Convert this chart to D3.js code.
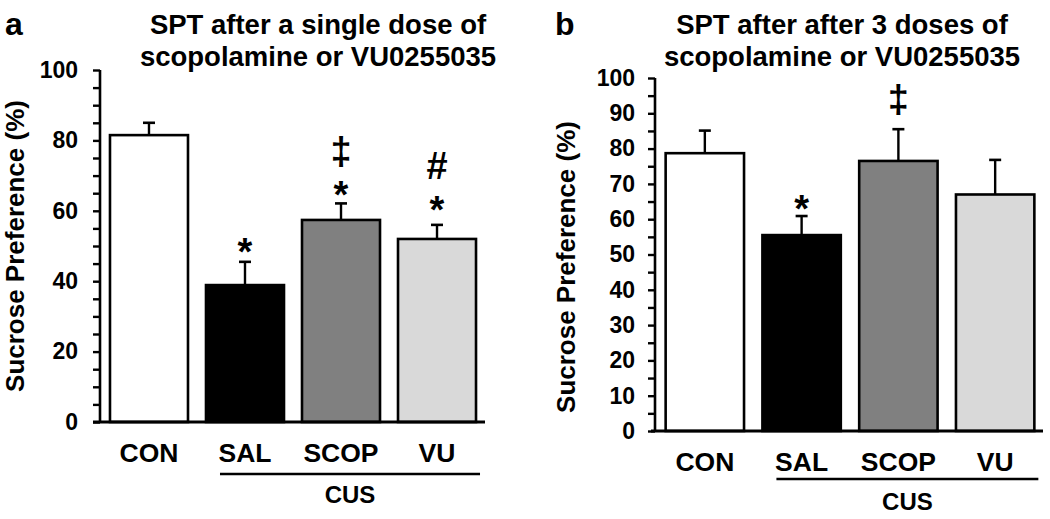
<!DOCTYPE html>
<html>
<head>
<meta charset="utf-8">
<script src="https://cdn.jsdelivr.net/npm/d3@7"></script>
<style>
  html, body { margin: 0; padding: 0; background: #fff; }
  svg { display: block; }
  text { font-family: "Liberation Sans", Arial, sans-serif; font-weight: bold; fill: #000; }
</style>
</head>
<body>
<svg id="chart" width="1050" height="519"></svg>
<script>
// ---------- data ----------
const categories = ["CON", "SAL", "SCOP", "VU"];
const fills = ["#ffffff", "#000000", "#808080", "#d9d9d9"];

const titleA = ["SPT after a single dose of", "scopolamine or VU0255035"];
const meansA = [81.5, 38.9, 57.4, 52.0];
const semA   = [3.5, 6.6, 4.7, 4.0];
const marksA = [[], ["*"], ["*", "\u2021"], ["*", "#"]];
const tickLabelsA = [0, 20, 40, 60, 80, 100];

const titleB = ["SPT after after 3 doses of", "scopolamine or VU0255035"];
const meansB = [78.7, 55.5, 76.5, 67.0];
const semB   = [6.4, 5.4, 9.0, 9.8];
const marksB = [[], ["*"], ["\u2021"], []];
const tickLabelsB = [0, 10, 20, 30, 40, 50, 60, 70, 80, 90, 100];

const minorTicks = d3.range(0, 101, 5);
const yLabel = "Sucrose Preference (%)";
const groupLabel = "CUS";

// ---------- layout ----------
const panels = [
  { letter: "a", title: titleA, means: meansA, sem: semA, marks: marksA, labels: tickLabelsA,
    axisX: 100, y0: 422, y100: 70, xRange: [100, 486], pi: 0.1875, po: 0.104,
    baseStart: 93, baseEnd: 485, titleX: 318, letterX: 5, yTitleX: 24, yTitleY: 246,
    tickPad: 15, xLabY: 462, cusLineY: 474, cusTextY: 503,
    markStart: [11, 11, 10, 17], markGap: [12, 12, 12, 16] },
  { letter: "b", title: titleB, means: meansB, sem: semB, marks: marksB, labels: tickLabelsB,
    axisX: 655, y0: 431, y100: 78, xRange: [655, 1045], pi: 0.19, po: 0.11,
    baseStart: 651, baseEnd: 1043, titleX: 842, letterX: 555, yTitleX: 575, yTitleY: 267,
    tickPad: 13, xLabY: 471, cusLineY: 479, cusTextY: 510,
    markStart: [11, 9, 12, 11], markGap: [12, 12, 12, 12] }
];

const glyph = { "*": [0.385, 0.716], "\u2021": [-0.14, 0.716], "#": [-0.01, 0.716] };
const markSize = 38;

const svg = d3.select("#chart");

panels.forEach(p => {
  const g = svg.append("g");
  const x = d3.scaleBand().domain(categories).range(p.xRange)
    .paddingInner(p.pi).paddingOuter(p.po);
  const y = d3.scaleLinear().domain([0, 100]).range([p.y0, p.y100]);

  // bars
  g.selectAll("rect.bar").data(categories).join("rect")
    .attr("class", "bar")
    .attr("x", d => x(d))
    .attr("y", (d, i) => y(p.means[i]))
    .attr("width", x.bandwidth())
    .attr("height", (d, i) => y(0) - y(p.means[i]))
    .attr("fill", (d, i) => fills[i])
    .attr("stroke", "#000")
    .attr("stroke-width", 2.6);

  // error bars
  const cap = 6;
  categories.forEach((c, i) => {
    const cx = x(c) + x.bandwidth() / 2;
    const top = y(p.means[i] + p.sem[i]);
    g.append("line").attr("x1", cx).attr("x2", cx)
      .attr("y1", y(p.means[i])).attr("y2", top)
      .attr("stroke", "#000").attr("stroke-width", 2.4);
    g.append("line").attr("x1", cx - cap).attr("x2", cx + cap)
      .attr("y1", top).attr("y2", top)
      .attr("stroke", "#000").attr("stroke-width", 2.6);

    // significance marks
    let cursor = top - p.markStart[i];
    p.marks[i].forEach(m => {
      const [b, t] = glyph[m];
      g.append("text").attr("x", cx).attr("y", cursor + b * markSize)
        .attr("text-anchor", "middle").attr("font-size", markSize).text(m);
      cursor = cursor - (t - b) * markSize - p.markGap[i];
    });
  });

  // y axis
  const yAxis = d3.axisLeft(y).tickValues(minorTicks).tickSize(7).tickPadding(p.tickPad)
    .tickFormat(d => p.labels.includes(d) ? d : "");
  const ya = g.append("g").attr("transform", `translate(${p.axisX},0)`).call(yAxis);
  ya.select(".domain").attr("d", `M0,${y(100)}V${y(0)}`).attr("stroke-width", 2.6);
  ya.selectAll(".tick line").attr("stroke-width", 2.4);
  ya.selectAll(".tick text").attr("font-size", 23)
    .style("font-family", '"Liberation Sans", Arial, sans-serif').style("font-weight", "bold")
    .attr("fill", "#000");

  // x baseline
  g.append("line").attr("x1", p.baseStart).attr("x2", p.baseEnd)
    .attr("y1", y(0)).attr("y2", y(0)).attr("stroke", "#000").attr("stroke-width", 2.8);

  // category labels
  g.selectAll("text.cat").data(categories).join("text")
    .attr("class", "cat")
    .attr("x", d => x(d) + x.bandwidth() / 2)
    .attr("y", p.xLabY)
    .attr("text-anchor", "middle").attr("font-size", 26.5).text(d => d);

  // CUS bracket
  const lx1 = x("SAL") + 14, lx2 = x("VU") + x.bandwidth() + 4;
  g.append("line").attr("x1", lx1).attr("x2", lx2)
    .attr("y1", p.cusLineY).attr("y2", p.cusLineY)
    .attr("stroke", "#000").attr("stroke-width", 2.6);
  g.append("text").attr("x", (lx1 + lx2) / 2).attr("y", p.cusTextY)
    .attr("text-anchor", "middle").attr("font-size", 24).text(groupLabel);

  // titles
  g.append("text").attr("x", p.titleX).attr("y", 34)
    .attr("text-anchor", "middle").attr("font-size", 27.5).text(p.title[0]);
  g.append("text").attr("x", p.titleX).attr("y", 66)
    .attr("text-anchor", "middle").attr("font-size", 27.5).text(p.title[1]);

  // panel letter
  g.append("text").attr("x", p.letterX).attr("y", 35)
    .attr("font-size", 32).text(p.letter);

  // y title
  g.append("text")
    .attr("transform", `translate(${p.yTitleX},${p.yTitleY}) rotate(-90)`)
    .attr("text-anchor", "middle").attr("font-size", 26).text(yLabel);
});
</script>
</body>
</html>
